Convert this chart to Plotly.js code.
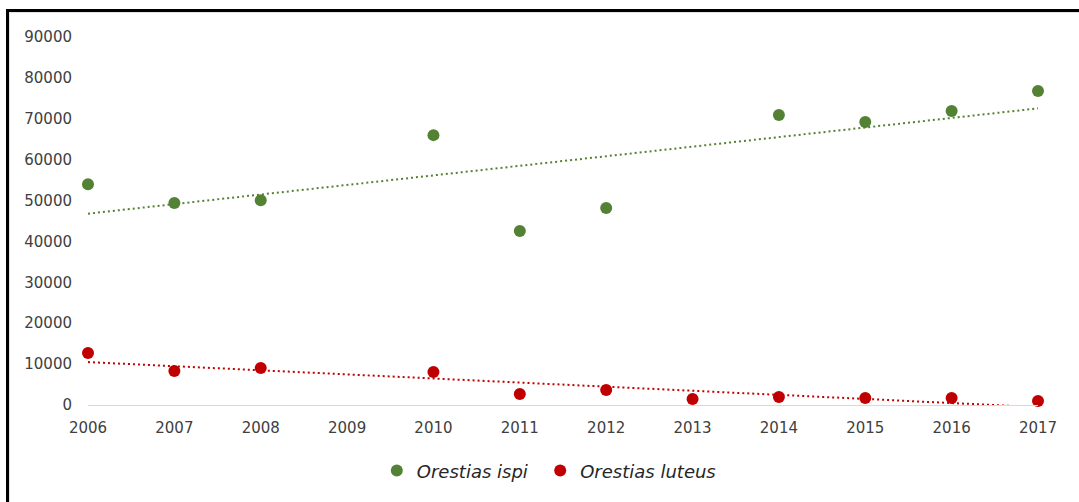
<!DOCTYPE html>
<html>
<head>
<meta charset="utf-8">
<script src="https://cdn.plot.ly/plotly-3.0.1.min.js"></script>
<style>
  html, body { margin: 0; padding: 0; background: #ffffff; }
  #wrap { position: relative; width: 1079px; height: 502px; overflow: hidden; }
  #chart { position: absolute; left: 0; top: 0; width: 1079px; height: 502px; }
  #frame { position: absolute; left: 6px; top: 9px; width: 1200px; height: 600px;
           border-top: 3px solid #000; border-left: 3px solid #000; pointer-events: none; }
  #frame2 { position: absolute; left: 9px; top: 12px; width: 1200px; height: 600px;
           border-top: 1px solid #e3e3e3; border-left: 1px solid #e3e3e3; pointer-events: none; }
</style>
</head>
<body>
<div id="wrap">
  <div id="chart"></div>
  <div id="frame"></div>
  <div id="frame2"></div>
</div>
<script>
// ---- data ----
const years = [2006, 2007, 2008, 2009, 2010, 2011, 2012, 2013, 2014, 2015, 2016, 2017];
const ispi = [54000, 49400, 50100, null, 66000, 42550, 48200, null, 70900, 69200, 71900, 76800];
const luteus = [12700, 8300, 9050, null, 8070, 2700, 3670, 1470, 1960, 1700, 1700, 980];
const seriesNames = ['Orestias ispi', 'Orestias luteus'];
const yTicks = [0, 10000, 20000, 30000, 40000, 50000, 60000, 70000, 80000, 90000];

const green = '#548235';
const red = '#C00000';

// least-squares linear trend (like Excel's linear trendline)
function trend(xs, ys) {
  const pts = xs.map((x, i) => [x, ys[i]]).filter(p => p[1] !== null);
  const n = pts.length;
  const mx = pts.reduce((s, p) => s + p[0], 0) / n;
  const my = pts.reduce((s, p) => s + p[1], 0) / n;
  let sxy = 0, sxx = 0;
  pts.forEach(p => { sxy += (p[0] - mx) * (p[1] - my); sxx += (p[0] - mx) * (p[0] - mx); });
  const b = sxy / sxx, a = my - b * mx;
  return xs.map(x => a + b * x);
}

const traces = [
  {
    x: years, y: trend(years, ispi), type: 'scatter', mode: 'lines',
    line: { color: green, width: 2, dash: '2px,3px' }, showlegend: false, hoverinfo: 'skip'
  },
  {
    x: years, y: trend(years, luteus), type: 'scatter', mode: 'lines',
    line: { color: red, width: 2, dash: '2px,3px' }, showlegend: false, hoverinfo: 'skip'
  },
  {
    x: years, y: ispi, type: 'scatter', mode: 'markers', name: seriesNames[0],
    marker: { color: green, size: 12 }, cliponaxis: false, legend: 'legend'
  },
  {
    x: years, y: luteus, type: 'scatter', mode: 'markers', name: seriesNames[1],
    marker: { color: red, size: 12 }, cliponaxis: false, legend: 'legend2'
  }
];

const legendFont = { family: 'DejaVu Sans, sans-serif', size: 18, style: 'italic', color: '#262626' };

const layout = {
  width: 1079, height: 502,
  margin: { l: 88, r: 41, t: 37, b: 97, pad: 0 },
  paper_bgcolor: 'rgba(0,0,0,0)',
  plot_bgcolor: 'rgba(0,0,0,0)',
  font: { family: 'DejaVu Sans, sans-serif', size: 15, color: '#404040' },
  xaxis: {
    range: [2006, 2017], tickvals: years, ticktext: years.map(String),
    showgrid: false, zeroline: false, showline: true, linecolor: '#d9d9d9', linewidth: 1,
    ticks: '', ticklabelstandoff: 9, fixedrange: true
  },
  yaxis: {
    range: [0, 90000], tickvals: yTicks, ticktext: yTicks.map(String),
    showgrid: false, zeroline: false, showline: false,
    ticks: '', ticklabelstandoff: 15, fixedrange: true
  },
  legend: {
    orientation: 'h', x: 0.304, xanchor: 'left', y: -0.179, yanchor: 'middle',
    font: legendFont, bgcolor: 'rgba(0,0,0,0)'
  },
  legend2: {
    orientation: 'h', x: 0.476, xanchor: 'left', y: -0.179, yanchor: 'middle',
    font: legendFont, bgcolor: 'rgba(0,0,0,0)'
  },
  showlegend: true
};

Plotly.newPlot('chart', traces, layout, { displayModeBar: false, staticPlot: true });
</script>
</body>
</html>
